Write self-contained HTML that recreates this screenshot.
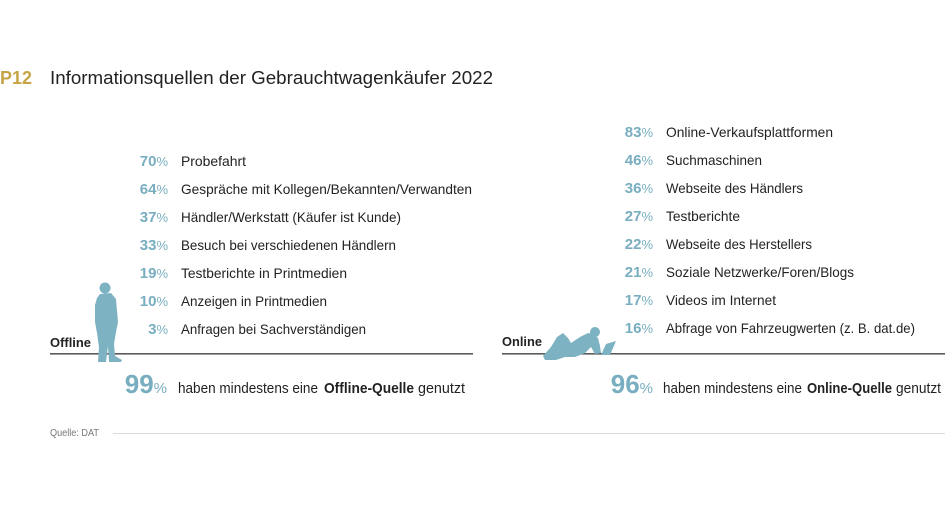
<!DOCTYPE html>
<html><head><meta charset="utf-8">
<style>
html,body{margin:0;padding:0;background:#fff;}
svg{display:block;}
text{font-family:"Liberation Sans",sans-serif;}
.lbl{font-size:14px;fill:#222;}
.pn{font-size:15px;font-weight:bold;fill:#78aec0;}
.pc{font-size:13px;fill:#78aec0;}
</style></head>
<body>
<svg width="945" height="532" viewBox="0 0 945 532" xmlns="http://www.w3.org/2000/svg">
<rect width="945" height="532" fill="#fff"/>
<!-- title -->
<text x="0" y="84" font-size="18" font-weight="bold" fill="#c6a446" textLength="32" lengthAdjust="spacingAndGlyphs">P12</text>
<text x="50" y="84" font-size="18" fill="#222" textLength="443" lengthAdjust="spacingAndGlyphs">Informationsquellen der Gebrauchtwagenkäufer 2022</text>

<!-- left list -->
<g>
<text x="168" y="166" text-anchor="end"><tspan class="pn">70</tspan><tspan class="pc">%</tspan></text>
<text class="lbl" x="181" y="166" textLength="65" lengthAdjust="spacingAndGlyphs">Probefahrt</text>
<text x="168" y="194" text-anchor="end"><tspan class="pn">64</tspan><tspan class="pc">%</tspan></text>
<text class="lbl" x="181" y="194" textLength="291" lengthAdjust="spacingAndGlyphs">Gespräche mit Kollegen/Bekannten/Verwandten</text>
<text x="168" y="222" text-anchor="end"><tspan class="pn">37</tspan><tspan class="pc">%</tspan></text>
<text class="lbl" x="181" y="222" textLength="220" lengthAdjust="spacingAndGlyphs">Händler/Werkstatt (Käufer ist Kunde)</text>
<text x="168" y="250" text-anchor="end"><tspan class="pn">33</tspan><tspan class="pc">%</tspan></text>
<text class="lbl" x="181" y="250" textLength="215" lengthAdjust="spacingAndGlyphs">Besuch bei verschiedenen Händlern</text>
<text x="168" y="278" text-anchor="end"><tspan class="pn">19</tspan><tspan class="pc">%</tspan></text>
<text class="lbl" x="181" y="278" textLength="166" lengthAdjust="spacingAndGlyphs">Testberichte in Printmedien</text>
<text x="168" y="306" text-anchor="end"><tspan class="pn">10</tspan><tspan class="pc">%</tspan></text>
<text class="lbl" x="181" y="306" textLength="146" lengthAdjust="spacingAndGlyphs">Anzeigen in Printmedien</text>
<text x="168" y="334" text-anchor="end"><tspan class="pn">3</tspan><tspan class="pc">%</tspan></text>
<text class="lbl" x="181" y="334" textLength="185" lengthAdjust="spacingAndGlyphs">Anfragen bei Sachverständigen</text>
</g>

<!-- right list -->
<g>
<text x="653" y="137" text-anchor="end"><tspan class="pn">83</tspan><tspan class="pc">%</tspan></text>
<text class="lbl" x="666" y="137" textLength="167" lengthAdjust="spacingAndGlyphs">Online-Verkaufsplattformen</text>
<text x="653" y="165" text-anchor="end"><tspan class="pn">46</tspan><tspan class="pc">%</tspan></text>
<text class="lbl" x="666" y="165" textLength="96" lengthAdjust="spacingAndGlyphs">Suchmaschinen</text>
<text x="653" y="193" text-anchor="end"><tspan class="pn">36</tspan><tspan class="pc">%</tspan></text>
<text class="lbl" x="666" y="193" textLength="137" lengthAdjust="spacingAndGlyphs">Webseite des Händlers</text>
<text x="653" y="221" text-anchor="end"><tspan class="pn">27</tspan><tspan class="pc">%</tspan></text>
<text class="lbl" x="666" y="221" textLength="74" lengthAdjust="spacingAndGlyphs">Testberichte</text>
<text x="653" y="249" text-anchor="end"><tspan class="pn">22</tspan><tspan class="pc">%</tspan></text>
<text class="lbl" x="666" y="249" textLength="146" lengthAdjust="spacingAndGlyphs">Webseite des Herstellers</text>
<text x="653" y="277" text-anchor="end"><tspan class="pn">21</tspan><tspan class="pc">%</tspan></text>
<text class="lbl" x="666" y="277" textLength="188" lengthAdjust="spacingAndGlyphs">Soziale Netzwerke/Foren/Blogs</text>
<text x="653" y="305" text-anchor="end"><tspan class="pn">17</tspan><tspan class="pc">%</tspan></text>
<text class="lbl" x="666" y="305" textLength="110" lengthAdjust="spacingAndGlyphs">Videos im Internet</text>
<text x="653" y="333" text-anchor="end"><tspan class="pn">16</tspan><tspan class="pc">%</tspan></text>
<text class="lbl" x="666" y="333" textLength="249" lengthAdjust="spacingAndGlyphs">Abfrage von Fahrzeugwerten (z. B. dat.de)</text>
</g>

<!-- section labels and lines -->
<text x="50" y="347" font-size="13" font-weight="bold" fill="#222" textLength="41" lengthAdjust="spacingAndGlyphs">Offline</text>
<text x="502" y="346" font-size="13" font-weight="bold" fill="#222" textLength="40" lengthAdjust="spacingAndGlyphs">Online</text>
<rect x="50" y="353" width="423" height="1.6" fill="#5a5a5a"/>
<rect x="502" y="353" width="443" height="1.6" fill="#5a5a5a"/>

<!-- standing figure -->
<g fill="#7db2c3">
<circle cx="105" cy="288" r="5.5"/>
<path d="M100,294 L111,293 L116,299 L118,322 L116,332 L114,344 L115,356 L122,360 L121,362 L109,362 L108,346 L106,362 L98,362 L99,347 L97,333 L95,322 L95,305 L97,298 Z"/>
</g>

<!-- reclining figure -->
<g fill="#7db2c3">
<circle cx="595" cy="332" r="5"/>
<path d="M543,356 L551,347 L557,337 L563,333 L568,338 L571,343 L580,337 L588,333 L593,334 L598,338 L600,346 L601,353 L595,354 L591,347 L585,353 L575,357 L565,357 L556,360 L545,360 Z"/>
<path d="M601,355 L606,344 L616,341 L610,355 Z"/>
</g>

<!-- summary -->
<text x="167" y="393" text-anchor="end"><tspan font-size="26" font-weight="bold" fill="#78aec0">99</tspan><tspan font-size="15" fill="#78aec0">%</tspan></text>
<text x="178" y="393" font-size="15" fill="#222" textLength="140" lengthAdjust="spacingAndGlyphs">haben mindestens eine</text>
<text x="324" y="393" font-size="15" font-weight="bold" fill="#222" textLength="90" lengthAdjust="spacingAndGlyphs">Offline-Quelle</text>
<text x="418" y="393" font-size="15" fill="#222" textLength="47" lengthAdjust="spacingAndGlyphs">genutzt</text>

<text x="653" y="393" text-anchor="end"><tspan font-size="26" font-weight="bold" fill="#78aec0">96</tspan><tspan font-size="15" fill="#78aec0">%</tspan></text>
<text x="663" y="393" font-size="15" fill="#222" textLength="139" lengthAdjust="spacingAndGlyphs">haben mindestens eine</text>
<text x="807" y="393" font-size="15" font-weight="bold" fill="#222" textLength="85" lengthAdjust="spacingAndGlyphs">Online-Quelle</text>
<text x="896" y="393" font-size="15" fill="#222" textLength="45" lengthAdjust="spacingAndGlyphs">genutzt</text>

<!-- source -->
<text x="50" y="436" font-size="10" fill="#777" textLength="49" lengthAdjust="spacingAndGlyphs">Quelle: DAT</text>
<rect x="113" y="433" width="832" height="1" fill="#dcdcdc"/>
</svg>
</body></html>
